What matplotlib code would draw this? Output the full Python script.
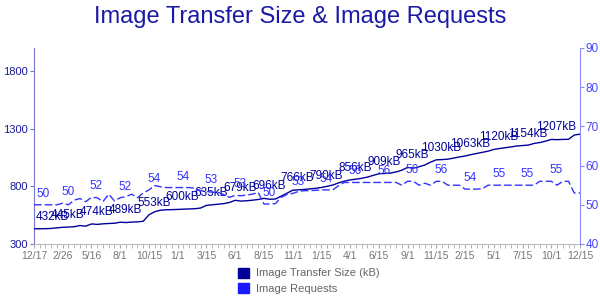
import matplotlib

matplotlib.use("Agg")
import matplotlib.pyplot as plt
from matplotlib.patches import Patch

plt.rcParams["font.family"] = ["Liberation Sans", "DejaVu Sans"]

# x categories: one run every ~2 weeks, label on every 5th
DATE_LABELS = ["12/17", "2/26", "5/16", "8/1", "10/15", "1/1", "3/15", "6/1", "8/15", "11/1",
               "1/15", "4/1", "6/15", "9/1", "11/15", "2/15", "5/1", "7/15", "10/1", "12/15"]

transfer_kb = [432, 432, 433, 435, 440, 445, 447, 450, 460, 455,
               474, 470, 475, 478, 480, 489, 486, 490, 492, 497,
               553, 580, 593, 597, 598, 600, 602, 604, 606, 612,
               635, 640, 645, 650, 660, 679, 672, 675, 680, 686,
               696, 688, 690, 715, 740, 766, 770, 773, 778, 783,
               790, 800, 812, 830, 845, 856, 862, 870, 880, 895,
               909, 912, 915, 925, 940, 965, 958, 970, 985, 1010,
               1030, 1032, 1036, 1045, 1055, 1063, 1075, 1085, 1095, 1105,
               1120, 1128, 1135, 1142, 1150, 1154, 1158, 1172, 1180, 1192,
               1207, 1205, 1207, 1208, 1245, 1253]

requests = [50, 50, 50, 50, 50, 50.4, 50, 51.2, 51.6, 50.8,
            51.9, 51.8, 50.8, 52.7, 51, 51.8, 52.1, 52.7, 51.8, 53,
            53.8, 54.9, 54.6, 54.4, 54.4, 54.4, 54.4, 54.4, 54.2, 53.6,
            53.4, 53.2, 53.2, 52.6, 51.9, 52.4, 52.3, 52.5, 52.7, 53.2,
            50.2, 50.2, 50.3, 51.9, 52.6, 52.9, 53.4, 53.6, 53.6, 53.7,
            53.8, 53.8, 53.8, 54.9, 55.7, 55.7, 55.7, 55.7, 55.7, 55.7,
            55.7, 55.7, 55.7, 55.7, 55, 56, 56, 55, 55.5, 55,
            56, 56, 55, 55, 55, 54, 54, 54, 54.1, 55,
            55, 55, 55, 55, 55, 55, 55, 55, 56, 56,
            56, 55, 56, 56, 53, 53]

# point labels (every 5th run)
size_labels = ["432kB", "445kB", "474kB", "489kB", "553kB", "600kB", "635kB", "679kB", "696kB",
               "766kB", "790kB", "856kB", "909kB", "965kB", "1030kB", "1063kB", "1120kB",
               "1154kB", "1207kB"]
req_labels = ["50", "50", "52", "52", "54", "54", "53", "53", "50", "53",
              "54", "56", "56", "56", "56", "54", "55", "55", "55"]

DARK = "#000099"
BLUE = "#3333ff"

fig = plt.figure(figsize=(6, 3), dpi=100)
ax = fig.add_axes([34 / 600, 1 - 244 / 300, 546 / 600, 196 / 300])
ax2 = ax.twinx()

xs = list(range(len(transfer_kb)))
ax.plot(xs, transfer_kb, color=DARK, lw=1.0, zorder=3)
ax2.plot(xs, requests, color=BLUE, lw=1.0, dashes=(5.5, 2.2))

ax.set_xlim(0, len(xs) - 1)
ax.set_ylim(300, 2000)
ax2.set_ylim(40, 90)
ax.set_yticks([300, 800, 1300, 1800])
ax2.set_yticks([40, 50, 60, 70, 80, 90])
ax.set_xticks(xs, minor=True)
ax.set_xticks(range(0, len(xs), 5), DATE_LABELS)

for i, lab in enumerate(size_labels):
    k = i * 5
    dx, ha = (2, "left") if i == 0 else (5, "center")
    ax.annotate(lab, (k, transfer_kb[k]), xytext=(dx, 12), textcoords="offset pixels",
                ha=ha, va="center", fontsize=8.5, color=DARK)
for i, lab in enumerate(req_labels):
    k = i * 5
    dx, ha = (2, "left") if i == 0 else (5, "center")
    ax2.annotate(lab, (k, requests[k]), xytext=(dx, 11), textcoords="offset pixels",
                 ha=ha, va="center", fontsize=8.5, color=BLUE)

for a in (ax, ax2):
    a.spines["top"].set_visible(False)
ax.spines["right"].set_visible(False)
ax2.spines["left"].set_visible(False)
ax2.spines["bottom"].set_visible(False)
ax.spines["left"].set_color("#7777cc")
ax2.spines["right"].set_color("#8888ff")
ax.spines["bottom"].set_color("#bbbbbb")

ax.tick_params(axis="y", colors="#7777cc", labelcolor="#1a1a99", labelsize=8,
               length=3, pad=1.5)
ax2.tick_params(axis="y", colors="#8888ff", labelcolor="#4444ff", labelsize=8.5,
                length=3, pad=1)
ax.tick_params(axis="x", which="both", colors="#aaaaaa", labelcolor="#777777",
               labelsize=7.5, length=3, pad=2)

fig.text(0.5, 1 - 17 / 300, "Image Transfer Size & Image Requests", ha="center", va="center",
         fontsize=17, color="#1a1aa6")

handles = [Patch(color=DARK), Patch(color="#1a1aff")]
fig.legend(handles, ["Image Transfer Size (kB)", "Image Requests"],
           loc="upper left", bbox_to_anchor=(232 / 600, 1 - 262 / 300), frameon=False,
           fontsize=8, labelcolor="#666666", handlelength=1.0, handleheight=1.0,
           handletextpad=0.7, labelspacing=0.45, borderpad=0)

fig.savefig("out.png", dpi=100)
